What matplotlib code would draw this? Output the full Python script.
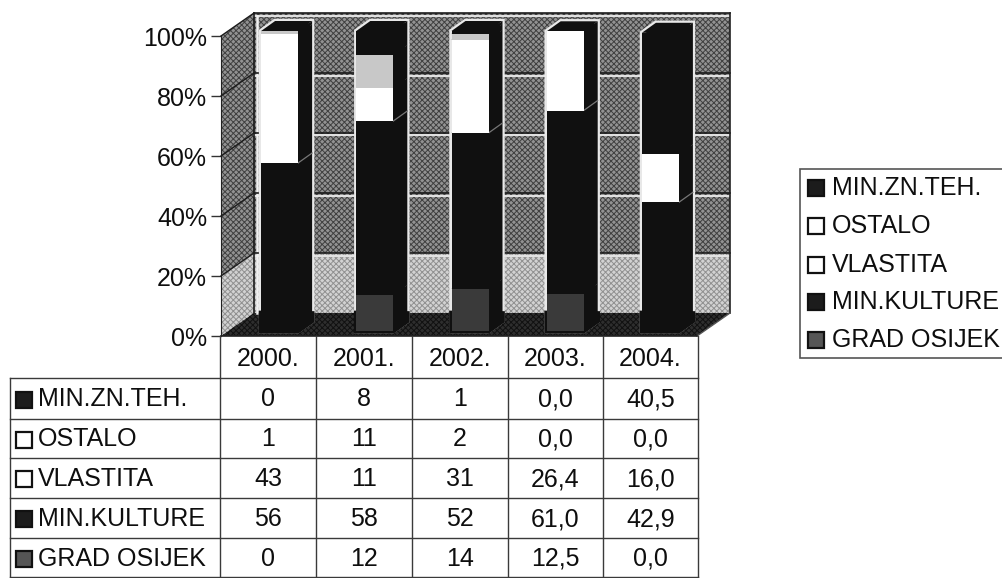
import matplotlib
matplotlib.use('Agg')
import matplotlib.pyplot as plt
from matplotlib.patches import Polygon, Rectangle

plt.rcParams['font.family'] = ['Liberation Sans', 'DejaVu Sans']
plt.rcParams['hatch.linewidth'] = 0.7

# Data, as printed in the table
years = ['2000.', '2001.', '2002.', '2003.', '2004.']
series_names = ['MIN.ZN.TEH.', 'OSTALO', 'VLASTITA', 'MIN.KULTURE', 'GRAD OSIJEK']
min_zn_teh = ['0', '8', '1', '0,0', '40,5']
ostalo = ['1', '11', '2', '0,0', '0,0']
vlastita = ['43', '11', '31', '26,4', '16,0']
min_kulture = ['56', '58', '52', '61,0', '42,9']
grad_osijek = ['0', '12', '14', '12,5', '0,0']
table_rows = [min_zn_teh, ostalo, vlastita, min_kulture, grad_osijek]
y_ticks = [0, 20, 40, 60, 80, 100]

# Styles
seg_colors = ['#101010', '#c8c8c8', '#ffffff', '#101010', '#3a3a3a']
legend_faces = ['#1c1c1c', '#ffffff', '#ffffff', '#1c1c1c', '#555555']
FS = 18
INK = '#0e0e0e'

fig = plt.figure(figsize=(10.03, 5.78), dpi=100, facecolor='white')
W, H = 1003, 578

# main axes: front plane of the 3d box, x in categories, y in percent
ax = fig.add_axes([221 / W, (H - 336) / H, 476 / W, 300 / H])
ax.set_xlim(0, 5)
ax.set_ylim(0, 100)
ax.patch.set_visible(False)
for s in ['top', 'right', 'bottom']:
    ax.spines[s].set_visible(False)
ax.spines['left'].set_color('#222222')
ax.set_xticks([])
ax.set_yticks(y_ticks)
ax.set_yticklabels([f'{t}%' for t in y_ticks], fontsize=FS, color=INK)
ax.tick_params(axis='y', length=7, width=1, color='#333333', pad=3)

PX = 5 / 476    # one pixel in x data units
PY = 100 / 300  # one pixel in y data units


def off(x, y, dx, dy):
    # shift a point by a depth offset given in pixels
    return (x + dx * PX, y + dy * PY)


BACK = (33, 23)
poly = lambda pts, **kw: ax.add_patch(Polygon(pts, closed=True, clip_on=False, **kw))

# walls, darker above the 20% line
dark = dict(facecolor='#929292', edgecolor='#404040', hatch='xxxxxx', linewidth=0, zorder=1)
light = dict(facecolor='#d2d2d2', edgecolor='#909090', hatch='xxxxxx', linewidth=0, zorder=1)
poly([off(0, 20, *BACK), off(5, 20, *BACK), off(5, 100, *BACK), off(0, 100, *BACK)], **dark)
poly([off(0, 0, *BACK), off(5, 0, *BACK), off(5, 20, *BACK), off(0, 20, *BACK)], **light)
poly([(0, 20), off(0, 20, *BACK), off(0, 100, *BACK), (0, 100)], **dark)
poly([(0, 0), off(0, 0, *BACK), off(0, 20, *BACK), (0, 20)], **light)
# floor
poly([(0, 0), (5, 0), off(5, 0, *BACK), off(0, 0, *BACK)], facecolor='#2e2e2e', edgecolor='#111111',
     hatch='xxxxxx', linewidth=0, zorder=2)

# grid on both walls and box outline, each back wall line has a pale scan edge under it
bx = BACK[0] * PX
by = BACK[1] * PY
for t in y_ticks[1:]:
    ax.plot([0, bx], [t, t + by], color='#1c1c1c', lw=1, zorder=3, clip_on=False)
    ax.plot([bx, 5 + bx], [t + by] * 2, color='#1c1c1c', lw=1.2, zorder=3, clip_on=False)
    ax.plot([bx, 5 + bx], [t + by - 2.5 * PY] * 2, color='#e4e4e4', lw=1.4, zorder=2.5, clip_on=False)
ax.plot([bx + 2.5 * PX] * 2, [by, 100 + by - 2.5 * PY], color='#f0f0f0', lw=1.8, zorder=2.5, clip_on=False)
ax.plot([bx, bx], [by, 100 + by], color='#1c1c1c', lw=1.2, zorder=3, clip_on=False)
ax.plot([5 + bx] * 2, [by, 100 + by], color='#222222', lw=1.2, zorder=3, clip_on=False)
ax.plot([0, 5], [0, 0], color='#222222', lw=1.2, zorder=8, clip_on=False)
ax.plot([5, 5 + bx], [0, by], color='#555555', lw=1, zorder=3, clip_on=False)

# stacked bars, bottom segment first
F = (11, 5)   # front face depth
B = (25, 15)  # back face depth
half = 18.5 * PX
for i in range(len(years)):
    x0, x1 = i + 0.5 - half, i + 0.5 + half
    values = [float(r[i].replace(',', '.')) for r in table_rows][::-1]
    colors = seg_colors[::-1]
    total = sum(values)
    # pale halo on the wall around each bar
    poly([off(x0, 0, *F), off(x1, 0, *F), off(x1, 0, *B), off(x1, total, *B), off(x0, total, *B),
          off(x0, total, *F)], facecolor='#101010', edgecolor='#e8e8e8', linewidth=3.2, zorder=4)
    # dark base so the halo stops where the wall meets the floor
    poly([off(x0, 0, *F), off(x1, 0, *F), off(x1, 0, *B), off(x1, 2.5, *B), off(x0, 6, *F)],
         facecolor='#101010', edgecolor='#101010', linewidth=3.4, zorder=4.5)
    bottom = 0
    for v, c in zip(values, colors):
        if v > 0:
            ax.bar(x0 + F[0] * PX, v, width=x1 - x0, bottom=bottom + F[1] * PY, align='edge', color=c, linewidth=0,
                   zorder=6, clip_on=False)
            poly([off(x1, bottom, *F), off(x1, bottom + v, *F), off(x1, bottom + v, *B), off(x1, bottom, *B)],
                 facecolor='#101010', linewidth=0, zorder=5)
            poly([off(x0, bottom + v, *F), off(x1, bottom + v, *F), off(x1, bottom + v, *B), off(x0, bottom + v, *B)],
                 facecolor='#101010', linewidth=0, zorder=5)
            if c == '#ffffff':
                ax.plot(*zip(off(x1, bottom, *F), off(x1, bottom, *B)), color='#777777', lw=0.9, zorder=5.5,
                        clip_on=False)
        bottom += v

# overlay in pixel coordinates for table and legend
ov = fig.add_axes([0, 0, 1, 1])
ov.set_xlim(0, W)
ov.set_ylim(H, 0)
ov.axis('off')
ov.patch.set_visible(False)

col_x = [220, 316, 412, 508, 603, 698]
row_y = [378, 419, 458, 498, 538, 577]
LINE = '#3a3a3a'
for x in col_x:
    ov.plot([x, x], [336, 577], color=LINE, lw=1)
ov.plot([10, 10], [378, 577], color=LINE, lw=1)
for y in row_y:
    ov.plot([10, 698], [y, y], color=LINE, lw=1)
for j, yr in enumerate(years):
    ov.text((col_x[j] + col_x[j + 1]) / 2, 359, yr, ha='center', va='center', fontsize=FS, color=INK)
for r, (name, row) in enumerate(zip(series_names, table_rows)):
    cy = (row_y[r] + row_y[r + 1]) / 2 + 1
    ov.add_patch(Rectangle((16, cy - 8), 16, 16, facecolor=legend_faces[r], edgecolor='#111111', lw=1.6))
    ov.text(38, cy, name, ha='left', va='center', fontsize=FS, color=INK)
    for j, val in enumerate(row):
        ov.text((col_x[j] + col_x[j + 1]) / 2, cy, val, ha='center', va='center', fontsize=FS, color=INK)

# legend box
ov.add_patch(Rectangle((800, 169), 210, 189, facecolor='white', edgecolor='#555555', lw=1.2, clip_on=True))
legend_y = [188, 226, 265, 302, 340]
for name, face, ly in zip(series_names, legend_faces, legend_y):
    ov.add_patch(Rectangle((808.5, ly - 8), 16, 16, facecolor=face, edgecolor='#111111', lw=1.6))
    ov.text(832, ly, name, ha='left', va='center', fontsize=FS, color=INK)

fig.savefig('out.png', dpi=100, facecolor='white')
